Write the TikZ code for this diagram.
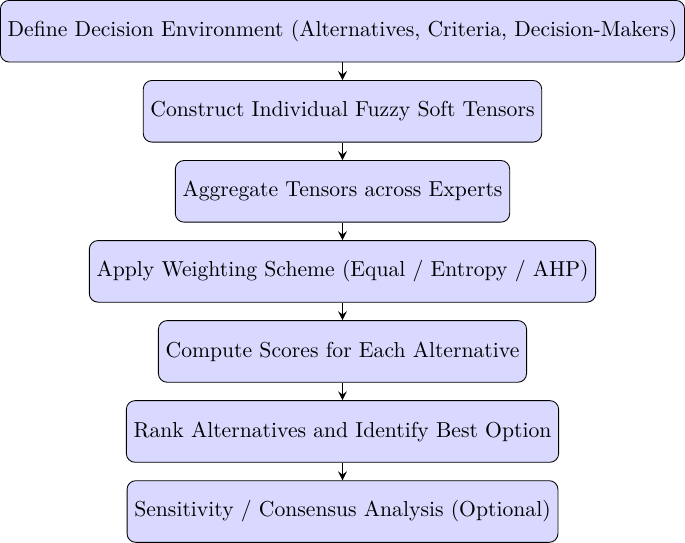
\documentclass[tikz,border=0pt]{standalone}
\usepackage{tikz}
\usetikzlibrary{positioning}
\tikzset{>=stealth}
\tikzset{stage/.style={draw, rounded corners, fill=blue!15, minimum height=1cm}}

\begin{document}
\begin{tikzpicture}[node distance=0.285cm]
    \node[stage] (env) {Define Decision Environment (Alternatives, Criteria, Decision-Makers)};
    \node[stage, below=of env] (tensor) {Construct Individual Fuzzy Soft Tensors};
    \node[stage, below=of tensor] (aggr) {Aggregate Tensors across Experts};
    \node[stage, below=of aggr] (weight) {Apply Weighting Scheme (Equal / Entropy / AHP)};
    \node[stage, below=of weight] (score) {Compute Scores for Each Alternative};
    \node[stage, below=of score] (rank) {Rank Alternatives and Identify Best Option};
    \node[stage, below=of rank] (sens) {Sensitivity / Consensus Analysis (Optional)};

    \foreach \a/\b in {env/tensor, tensor/aggr, aggr/weight, weight/score, score/rank, rank/sens}
      \draw[thick,->] (\a) -- (\b);
\end{tikzpicture}
\end{document}
